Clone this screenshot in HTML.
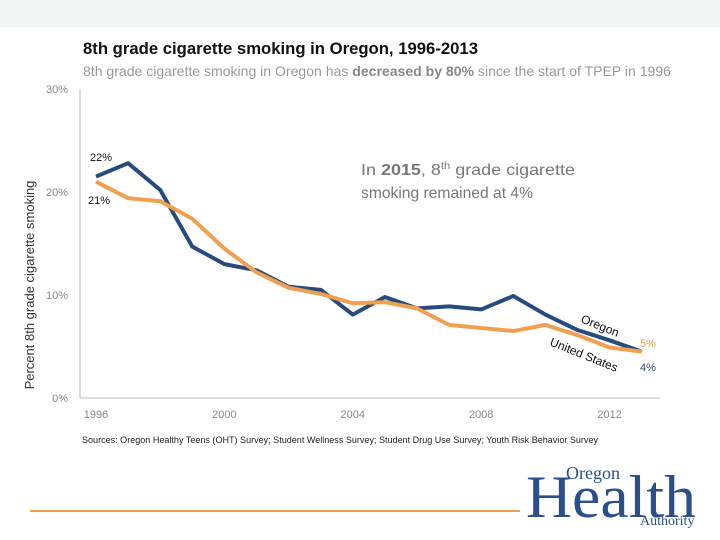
<!DOCTYPE html>
<html><head><meta charset="utf-8"><style>
body{margin:0;width:720px;height:540px;overflow:hidden;background:#fff;font-family:"Liberation Sans",sans-serif}
svg{display:block}
</style></head><body>
<svg width="720" height="540">
<rect x="0" y="0" width="720" height="27" fill="#f3f5f5"/>
<text x="83" y="54" font-size="17" font-weight="bold" fill="#111" textLength="395" lengthAdjust="spacingAndGlyphs">8th grade cigarette smoking in Oregon, 1996-2013</text>
<text x="83" y="76" font-size="14" fill="#999" textLength="588" lengthAdjust="spacingAndGlyphs">8th grade cigarette smoking in Oregon has <tspan font-weight="bold" fill="#888">decreased by 80%</tspan> since the start of TPEP in 1996</text>
<text transform="translate(34,285) rotate(-90)" text-anchor="middle" font-size="13" fill="#333">Percent 8th grade cigarette smoking</text>
<g id="yt"></g><g id="xt"></g>
<line x1="80" y1="89" x2="80" y2="398" stroke="#bbb"/>
<line x1="80" y1="398" x2="660" y2="398" stroke="#bbb"/>
<g id="lines"></g>
<text x="90" y="161" font-size="11" fill="#111">22%</text>
<text x="88" y="204" font-size="11" fill="#111">21%</text>
<text x="640" y="347" font-size="11" fill="#e8a050">5%</text>
<text x="640" y="371" font-size="11" fill="#2a4a7a">4%</text>
<text transform="translate(580,322) rotate(22)" font-size="12" fill="#111">Oregon</text>
<text transform="translate(549,345) rotate(22)" font-size="12" fill="#111">United States</text>
<text x="361" y="175" font-size="16" fill="#777" textLength="214" lengthAdjust="spacingAndGlyphs">In <tspan font-weight="bold">2015</tspan>, 8<tspan font-size="10" dy="-6">th</tspan><tspan dy="6"> grade cigarette</tspan></text>
<text x="361" y="198" font-size="16" fill="#777" textLength="172" lengthAdjust="spacingAndGlyphs">smoking remained at 4%</text>
<text x="82" y="443" font-size="9" fill="#222" textLength="516" lengthAdjust="spacingAndGlyphs">Sources: Oregon Healthy Teens (OHT) Survey; Student Wellness Survey; Student Drug Use Survey; Youth Risk Behavior Survey</text>
<line x1="30" y1="511" x2="520" y2="511" stroke="#e8a050" stroke-width="2"/>
<g>
<text x="566" y="479" font-size="18" fill="#2a4f8a" font-family="Liberation Serif,serif">Oregon</text>
<text x="526" y="517" font-size="60" fill="#2a4f8a" font-family="Liberation Serif,serif" textLength="170" lengthAdjust="spacingAndGlyphs">Health</text>
<text x="640" y="525" font-size="14" fill="#2a4f8a" font-family="Liberation Serif,serif">Authority</text>
</g>
</svg>
<script>
const years=[1996,1997,1998,1999,2000,2001,2002,2003,2004,2005,2006,2007,2008,2009,2010,2011,2012,2013];
const oregon=[21.5,22.8,20.2,14.7,13.0,12.4,10.8,10.5,8.1,9.8,8.7,8.9,8.6,9.9,8.1,6.6,5.6,4.5];
const us=[21.0,19.4,19.1,17.4,14.5,12.2,10.7,10.1,9.2,9.3,8.7,7.1,6.8,6.5,7.1,6.1,4.9,4.5];
const yTicks=[0,10,20,30];
const xTicks=[1996,2000,2004,2008,2012];
const NS='http://www.w3.org/2000/svg';
const x=v=>96+(v-1996)*32.1;
const y=v=>398-v*10.3;
function mk(t,a,p){const e=document.createElementNS(NS,t);for(const k in a)e.setAttribute(k,a[k]);p.appendChild(e);return e;}
const yt=document.getElementById('yt');
yTicks.forEach(v=>{const t=mk('text',{x:68,y:y(v)+4,'text-anchor':'end','font-size':11,fill:'#888'},yt);t.textContent=v+'%';

});
const xt=document.getElementById('xt');
xTicks.forEach(v=>{const t=mk('text',{x:x(v),y:418,'text-anchor':'middle','font-size':11,fill:'#888'},xt);t.textContent=v;

});
const g=document.getElementById('lines');
function line(d,c,n){const p=mk('polyline',{points:d.map((v,i)=>x(years[i])+','+y(v)).join(' '),fill:'none',stroke:c,'stroke-width':4,'stroke-linejoin':'round'},g);

}
line(oregon,'#264b7c','line-oregon');
line(us,'#f0a050','line-us');
</script>
</body></html>
